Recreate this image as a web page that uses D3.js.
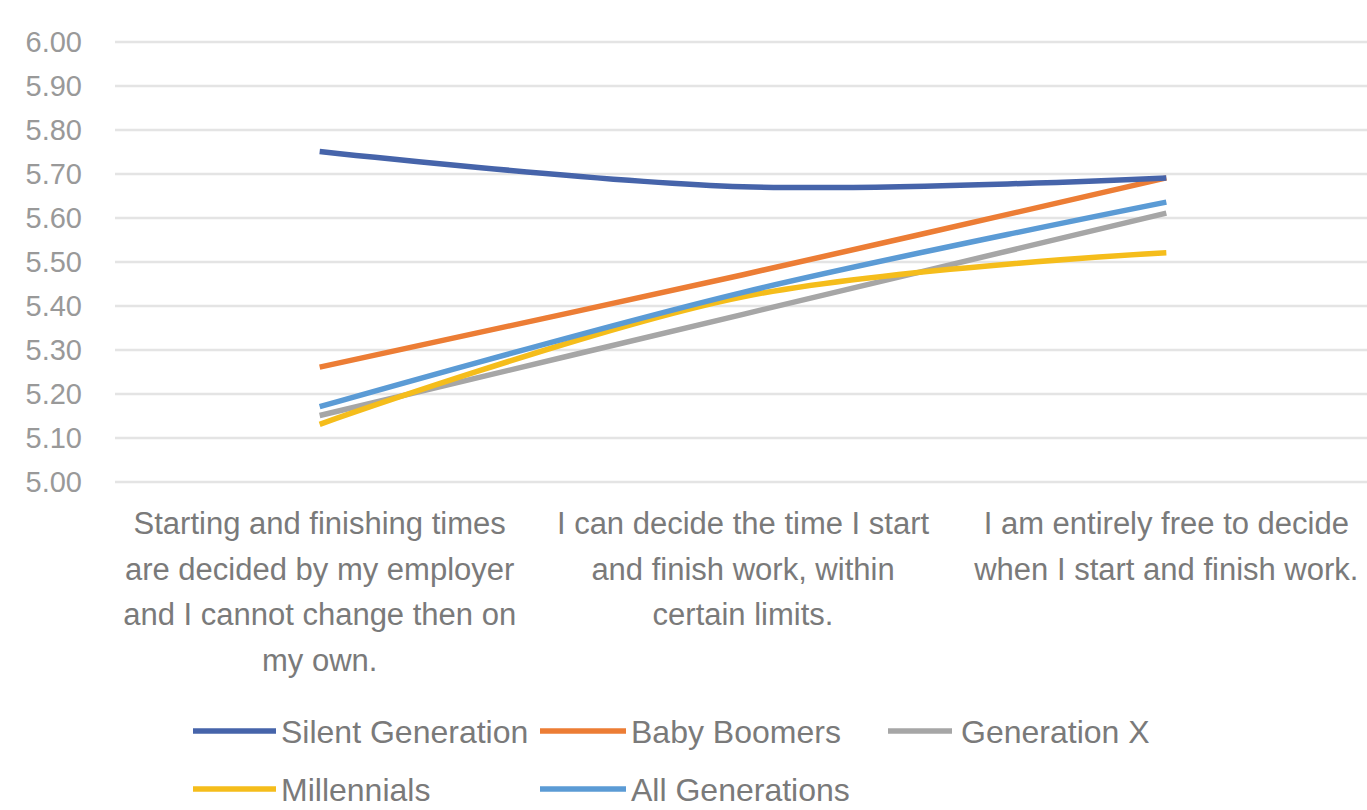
<!DOCTYPE html>
<html>
<head>
<meta charset="utf-8">
<script src="https://cdn.jsdelivr.net/npm/d3@7"></script>
<style>
  html, body { margin: 0; padding: 0; background: #ffffff; }
  svg { display: block; }
  text { font-family: "Liberation Sans", Arial, sans-serif; }
</style>
</head>
<body>
<svg id="chart" width="1367" height="810"></svg>
<script>
// Working-time arrangement categories (x axis), one label line per entry
const categories = [
  ["Starting and finishing times", "are decided by my employer", "and I cannot change then on", "my own."],
  ["I can decide the time I start", "and finish work, within", "certain limits."],
  ["I am entirely free to decide", "when I start and finish work."]
];

// Mean scores per generation
const seriesNames = ["Silent Generation", "Baby Boomers", "Generation X", "Millennials", "All Generations"];
const silentGeneration = [5.75, 5.67, 5.69];
const babyBoomers      = [5.26, 5.47, 5.69];
const generationX      = [5.15, 5.38, 5.61];
const millennials      = [5.13, 5.42, 5.52];
const allGenerations   = [5.17, 5.43, 5.635];
const seriesColors = ["#4664aa", "#ec7d35", "#a6a6a6", "#f5bd1b", "#5b9bd5"];

// Y axis ticks
const yTicks = [5.00, 5.10, 5.20, 5.30, 5.40, 5.50, 5.60, 5.70, 5.80, 5.90, 6.00];

const series = [silentGeneration, babyBoomers, generationX, millennials, allGenerations]
  .map((values, i) => ({ name: seriesNames[i], values, color: seriesColors[i] }));

const svg = d3.select("#chart");

const x = d3.scaleBand()
  .domain(d3.range(categories.length))
  .range([108, 1378]);

const y = d3.scaleLinear()
  .domain([5.0, 6.0])
  .range([481.5, 41.5]);

// Horizontal gridlines
const grid = d3.axisLeft(y)
  .tickValues(yTicks)
  .tickSize(-(1367 - 115))
  .tickFormat("");
svg.append("g")
  .attr("transform", "translate(115,0)")
  .call(grid)
  .call(g => g.select(".domain").remove())
  .call(g => g.selectAll("line").attr("stroke", "#e4e4e4").attr("stroke-width", 2.5));

// Y tick labels
const yAxis = d3.axisLeft(y)
  .tickValues(yTicks)
  .tickSize(0)
  .tickPadding(0)
  .tickFormat(d3.format(".2f"));
svg.append("g")
  .attr("transform", "translate(82,0)")
  .call(yAxis)
  .call(g => g.select(".domain").remove())
  .call(g => g.selectAll("text")
    .attr("fill", "#999999")
    .style("font-size", "29px")
    .attr("dy", "0.36em"));

// Category labels, wrapped on several lines
const catG = svg.append("g");
categories.forEach((lines, i) => {
  const t = catG.append("text")
    .attr("x", x(i) + x.bandwidth() / 2)
    .attr("y", 534)
    .attr("text-anchor", "middle")
    .attr("fill", "#7a7a7a")
    .style("font-size", "31px");
  lines.forEach((ln, j) => {
    t.append("tspan")
      .attr("x", x(i) + x.bandwidth() / 2)
      .attr("dy", j === 0 ? 0 : 45.5)
      .text(ln);
  });
});

// Series lines (smoothed)
const line = d3.line()
  .x((d, i) => x(i) + x.bandwidth() / 2)
  .y(d => y(d))
  .curve(d3.curveCatmullRom.alpha(0.5));

const order = [2, 3, 4, 1, 0];
svg.append("g")
  .selectAll("path")
  .data(order.map(i => series[i]))
  .join("path")
  .attr("d", d => line(d.values))
  .attr("fill", "none")
  .attr("stroke", d => d.color)
  .attr("stroke-width", 5.5)
  .attr("stroke-linecap", "butt");

// Legend
const legendCols = [193, 540, 888];
const legendRows = [731, 789];
const swatchLen = [83, 86, 64];
const legend = svg.append("g");
series.forEach((s, i) => {
  const col = i % 3, row = Math.floor(i / 3);
  const lx = legendCols[col], ly = legendRows[row];
  const len = swatchLen[col];
  legend.append("line")
    .attr("x1", lx).attr("x2", lx + len)
    .attr("y1", ly).attr("y2", ly)
    .attr("stroke", s.color)
    .attr("stroke-width", 5.5);
  legend.append("text")
    .attr("x", lx + len + (col === 2 ? 9 : 5))
    .attr("y", ly)
    .attr("dy", "0.36em")
    .attr("fill", "#7a7a7a")
    .style("font-size", "32px")
    .text(s.name);
});
</script>
</body>
</html>
